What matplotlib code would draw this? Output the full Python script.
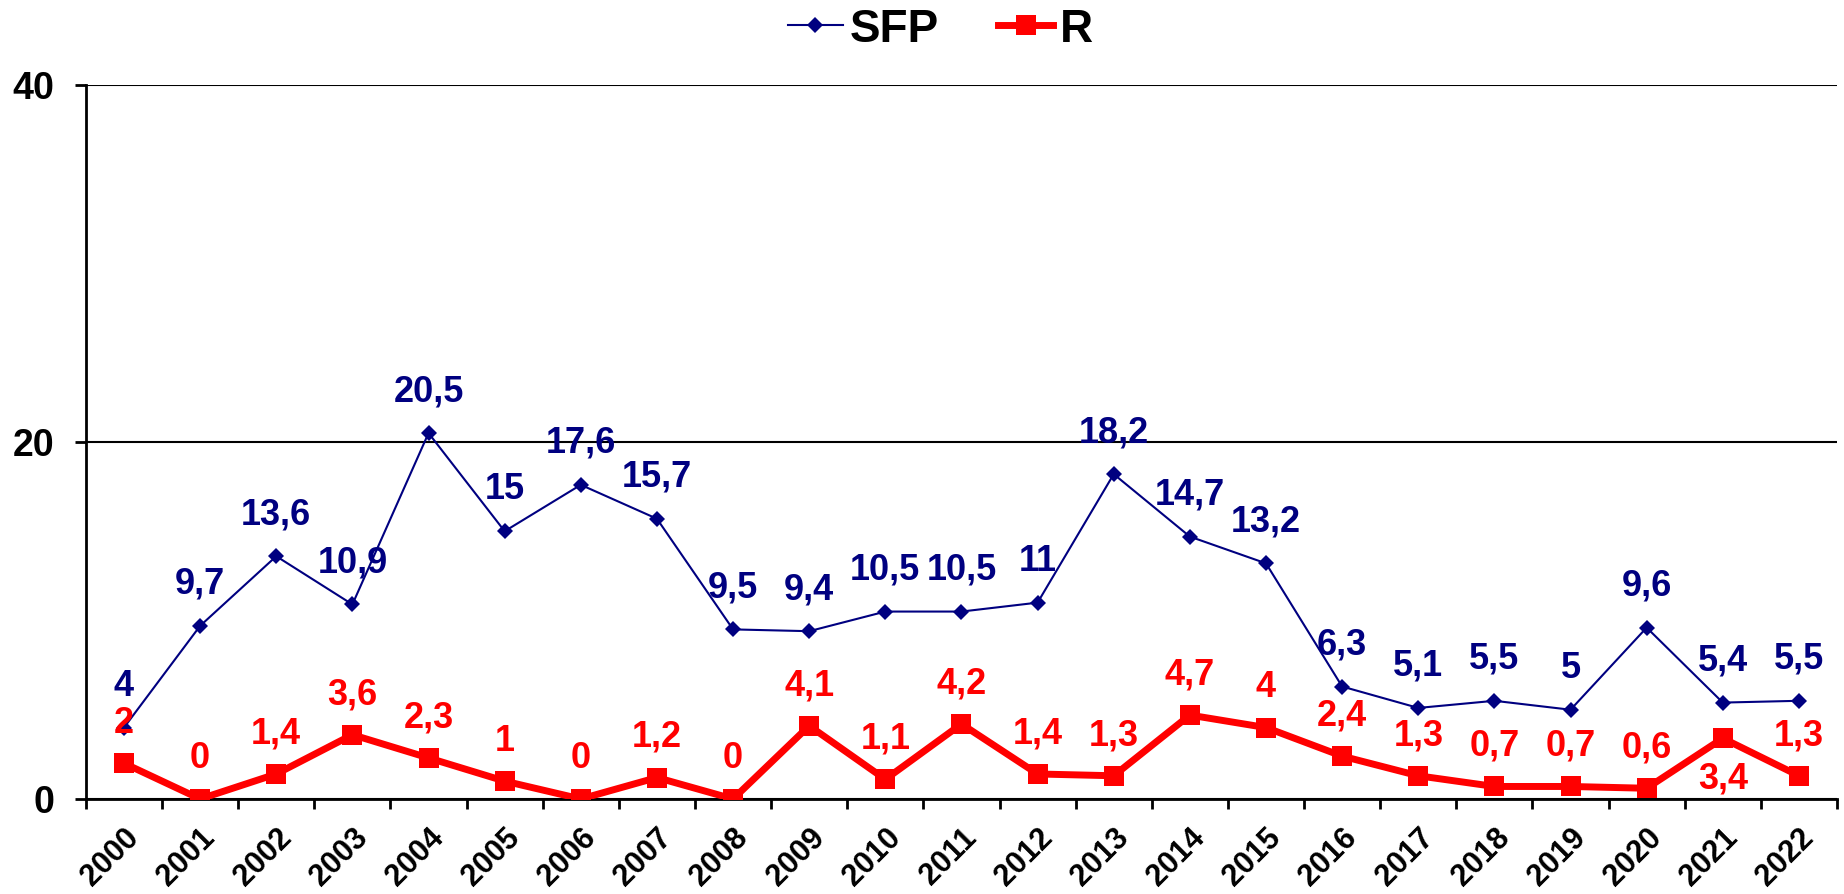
import matplotlib
matplotlib.use("Agg")
import matplotlib.pyplot as plt
import numpy as np

years = [str(y) for y in range(2000, 2023)]
sfp = [4, 9.7, 13.6, 10.9, 20.5, 15, 17.6, 15.7, 9.5, 9.4, 10.5, 10.5, 11,
       18.2, 14.7, 13.2, 6.3, 5.1, 5.5, 5, 9.6, 5.4, 5.5]
r_vals = [2, 0, 1.4, 3.6, 2.3, 1, 0, 1.2, 0, 4.1, 1.1, 4.2, 1.4, 1.3, 4.7,
          4, 2.4, 1.3, 0.7, 0.7, 0.6, 3.4, 1.3]
y_ticks = [0, 20, 40]

plt.rcParams['font.family'] = ['Liberation Sans', 'DejaVu Sans']
plt.rcParams['font.weight'] = 'bold'

NAVY = '#000080'
RED = '#FF0000'

fig = plt.figure(figsize=(18.44, 8.94), dpi=100)
ax = fig.add_axes([0.0466, 0.1063, 0.9496, 0.7986])

x = np.arange(len(years))
ax.plot(x, sfp, color=NAVY, lw=1.5, marker='D', ms=8.5, mew=0, label='SFP', zorder=3)
ax.plot(x, r_vals, color=RED, lw=5, marker='s', ms=14.5, mew=0, label='R', zorder=4)


def fmt(v):
    return ('%g' % v).replace('.', ',')


for xi, v in zip(x, sfp):
    ax.annotate(fmt(v), (xi, v), xytext=(0, 23), textcoords='offset points',
                ha='center', va='baseline', color=NAVY, fontsize=26,
                fontweight='bold', zorder=5)
for i, (xi, v) in enumerate(zip(x, r_vals)):
    dy = -36 if years[i] == '2021' else 22
    ax.annotate(fmt(v), (xi, v), xytext=(0, dy), textcoords='offset points',
                ha='center', va='baseline', color=RED, fontsize=26,
                fontweight='bold', zorder=5)

ax.set_xlim(-0.5, len(years) - 0.5)
ax.set_ylim(0, 40)
ax.set_yticks(y_ticks)
ax.set_yticklabels([str(t) for t in y_ticks], fontsize=27, fontweight='bold')
ax.tick_params(axis='y', direction='out', length=8, width=2, pad=15)
ax.yaxis.grid(True, color='black', lw=1.5)
ax.set_axisbelow(True)

ax.set_xticks(x)
ax.set_xticklabels(years, rotation=45, ha='right', rotation_mode='anchor',
                   fontsize=22, fontweight='bold')
ax.tick_params(axis='x', which='major', length=0, pad=17)
ax.set_xticks(np.arange(-0.5, len(years), 1.0), minor=True)
ax.tick_params(axis='x', which='minor', direction='out', length=7, width=2)

for s in ['top', 'right']:
    ax.spines[s].set_visible(False)
for s in ['left', 'bottom']:
    ax.spines[s].set_linewidth(2)

fig.legend(loc='center', bbox_to_anchor=(0.51, 0.967), ncol=2, frameon=False,
           prop={'size': 33, 'weight': 'bold'}, handlelength=1.2,
           columnspacing=1.3, handletextpad=0.15, borderpad=0)

fig.savefig('out.png', dpi=100)
